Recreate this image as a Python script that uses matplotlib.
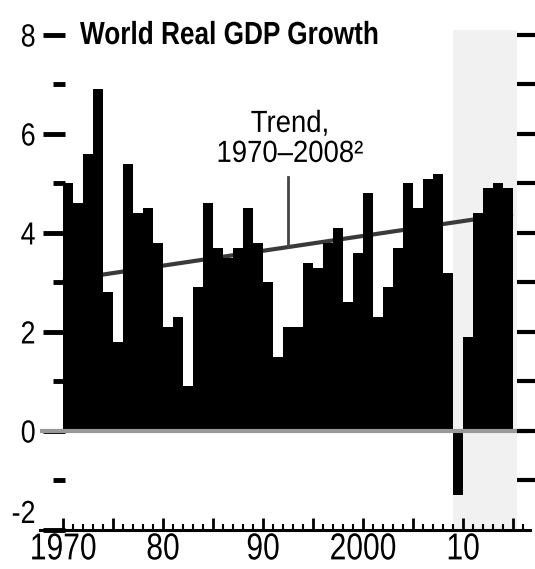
#!/usr/bin/python3

"""World real GDP growth bars with the 1970-2008 trend line"""

import matplotlib
matplotlib.use('Agg')
import matplotlib.pyplot as plt
import numpy as np
from matplotlib.patheffects import AbstractPathEffect
from matplotlib.transforms import Affine2D

plt.rcParams['font.family'] = ['Liberation Sans', 'DejaVu Sans']

# data (percent)
years = list(range(1970, 2015))
growth = [5.0, 4.6, 5.6, 6.9, 2.8, 1.8, 5.4, 4.4, 4.5, 3.8,
          2.1, 2.3, 0.9, 2.9, 4.6, 3.7, 3.5, 3.7, 4.5, 3.8,
          3.0, 1.5, 2.1, 2.1, 3.4, 3.3, 3.8, 4.1, 2.6, 3.6,
          4.8, 2.3, 2.9, 3.7, 5.0, 4.5, 5.1, 5.2, 3.2, -1.3,
          1.9, 4.4, 4.9, 5.0, 4.9]
trend_years = [1970, 2015]
trend_values = [3.04, 4.39]
projection_start = 2009

ytick_values = [-2, 0, 2, 4, 6, 8]
ytick_labels = ['-2', '0', '2', '4', '6', '8']
decade_years = [1970, 1980, 1990, 2000, 2010]
decade_labels = ['1970', '80', '90', '2000', '10']


class Narrow(AbstractPathEffect):
    """squeeze text horizontally (no narrow font installed)"""

    def __init__(self, factor=0.82, anchor='center'):
        super().__init__()
        self.factor = factor
        self.anchor = anchor

    def draw_path(self, renderer, gc, tpath, affine, rgbFace=None):
        ext = tpath.get_extents(affine)
        x0 = {'left': ext.x0, 'center': (ext.x0 + ext.x1) / 2,
              'right': ext.x1}[self.anchor]
        squeeze = Affine2D().translate(-x0, 0).scale(self.factor, 1).translate(x0, 0)
        renderer.draw_path(gc, tpath, affine + squeeze, rgbFace)


fig = plt.figure(figsize=(5.35, 5.69), dpi=100)
ax = fig.add_axes([40 / 535, 39 / 569, 490 / 535, 500 / 569])
ax.set_xlim(1967.7, 2016.7)
ax.set_ylim(-2, 8.1)

# shaded projection area
ax.axvspan(projection_start, 2015.4, color='#f1f1f1', lw=0, zorder=0)

# trend line sits behind the bars
ax.plot(trend_years, trend_values, color='#3a3a3a', lw=3, zorder=1,
        solid_capstyle='butt')
ax.bar(years, growth, width=1.0, align='edge', color='black', lw=0, zorder=2)
ax.axhline(0, color='#999999', lw=3, zorder=3)

# annotation with leader line down to the trend
lead_x = 1992.5
ax.plot([lead_x, lead_x], [5.13, np.interp(lead_x, trend_years, trend_values)],
        color='#444444', lw=2, zorder=1)
ax.text(1992.7, 5.9, 'Trend,\n1970\u20132008\u00b2', ha='center', va='center',
        fontsize=22, linespacing=1.0, path_effects=[Narrow(0.9, 'center')])

# axes styling
for side in ['top', 'right', 'left']:
    ax.spines[side].set_visible(False)
ax.spines['left'].set_position(('data', 1970.2))
ax.spines['bottom'].set_linewidth(2.2)

ax.set_yticks(ytick_values)
ax.set_yticklabels(ytick_labels)
ax.set_yticks([-1, 1, 3, 5, 7], minor=True)
ax.tick_params(axis='y', which='major', length=16, width=3.5, pad=5, labelsize=23)
ax.tick_params(axis='y', which='minor', length=9, width=3.5)

major_x = list(range(1970, 2016, 5))
ax.set_xticks(major_x)
ax.set_xticklabels([decade_labels[decade_years.index(y)] if y in decade_years else ''
                    for y in major_x])
ax.set_xticks(range(1970, 2017), minor=True)
ax.tick_params(axis='x', which='major', direction='in', length=9, width=2,
               labelsize=27, pad=1)
ax.tick_params(axis='x', which='minor', direction='in', length=4, width=1.5)

# no dash at -2 and 0: the axis line and the zero line are there
yticks = ax.yaxis.get_major_ticks()
yticks[0].tick1line.set_visible(False)
yticks[1].tick1line.set_visible(False)
yticks[0].label1.set_va('bottom')

for lab in ax.get_yticklabels():
    lab.set_path_effects([Narrow(0.84, 'right')])
for lab in ax.get_xticklabels():
    lab.set_path_effects([Narrow(0.8, 'center')])

# unlabelled ticks on the right
ax2 = ax.twinx()
ax2.set_ylim(ax.get_ylim())
for side in ax2.spines:
    ax2.spines[side].set_visible(False)
ax2.spines['right'].set_position(('data', 2015.4))
ax2.set_yticks(range(-1, 9))
ax2.tick_params(axis='y', length=13, width=3, labelright=False)

fig.text(80 / 535, 1 - 36 / 569, 'World Real GDP Growth', fontsize=23,
         fontweight='bold', ha='left', va='center',
         path_effects=[Narrow(0.82, 'left')])

fig.savefig('out.png', dpi=100)
